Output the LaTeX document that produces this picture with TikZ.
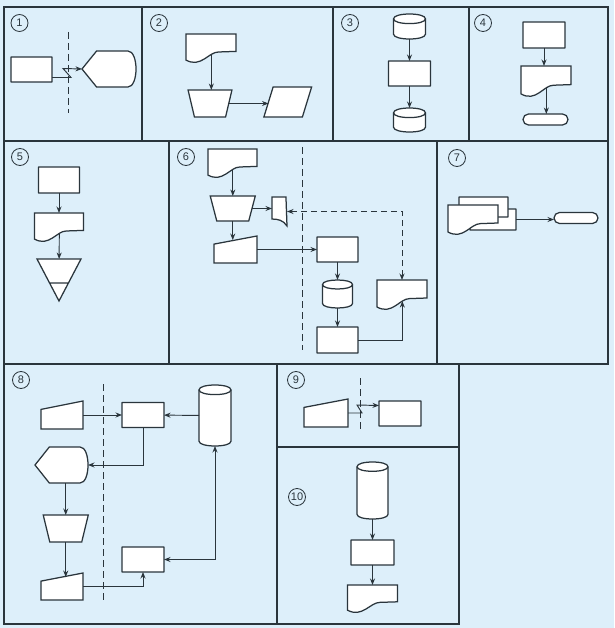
\documentclass[tikz,border=0pt]{standalone}
\usepackage{fontspec}
\setsansfont{Liberation Sans}
\usetikzlibrary{calc,arrows.meta}
\definecolor{paper}{HTML}{DDEFFA}
\definecolor{ink}{HTML}{2A353C}

% outlines drawn round ghost nodes
\newcommand\docshape[1]{%
  \draw[fig] let \p1=(#1.north west), \p2=(#1.south east),
    \n1={\x2-\x1}, \n2={\y1-\y2} in
    (\x1,\y1) -- (\x2,\y1) -- (\x2,{\y1-0.6*\n2})
    -- ({\x1+0.65*\n1},{\y1-0.62*\n2})
    .. controls ({\x1+0.45*\n1},{\y1-0.62*\n2}) and ({\x1+0.3*\n1},{\y1-1.18*\n2})
    .. coordinate[pos=0.25] (#1-b) (\x1,{\y1-0.9*\n2}) -- cycle;}
\newcommand\dispshape[1]{%
  \draw[fig] let \p1=(#1.north west), \p2=(#1.south east),
    \n1={\x2-\x1}, \n2={\y1-\y2} in
    (\x1,{\y1-0.5*\n2}) -- ({\x1+0.27*\n1},\y1) -- ({\x1+0.85*\n1},\y1)
    .. controls ({\x1+1.05*\n1},\y1) and ({\x1+1.05*\n1},\y2) .. ({\x1+0.85*\n1},\y2)
    -- ({\x1+0.27*\n1},\y2) -- cycle;}
\newcommand\manshape[1]{%
  \draw[fig] let \p1=(#1.north west), \p2=(#1.south east), \n2={\y1-\y2} in
    (\x1,{\y1-0.3*\n2}) -- coordinate[pos=0.5] (#1-t) (\x2,\y1)
    -- (\x2,\y2) -- (\x1,\y2) -- cycle;}
\newcommand\trapshape[1]{%
  \draw[fig] let \p1=(#1.north west), \p2=(#1.south east), \n1={0.085*(\x2-\x1)} in
    ({\x1-\n1},\y1) -- ({\x2+\n1},\y1) -- ({\x2-\n1},\y2) -- ({\x1+\n1},\y2) -- cycle;}
\newcommand\parashape[1]{%
  \draw[fig] let \p1=(#1.north west), \p2=(#1.south east), \n1={0.12*(\x2-\x1)} in
    ({\x1+\n1},\y1) -- ({\x2+\n1},\y1) -- ({\x2-\n1},\y2) -- ({\x1-\n1},\y2) -- cycle;}
\newcommand\mergeshape[1]{%
  \draw[fig] let \p1=(#1.north west), \p2=(#1.south east),
    \n1={\x2-\x1}, \n2={\y1-\y2} in
    (\x1,\y1) -- (\x2,\y1) -- ({\x1+0.5*\n1},\y2) -- cycle
    ({\x1+0.285*\n1},{\y1-0.57*\n2}) -- ({\x1+0.715*\n1},{\y1-0.57*\n2});}
\newcommand\cylshape[1]{%
  \draw[fig] let \p1=(#1.north west), \p2=(#1.south east), \n3={0.15*(\x2-\x1)} in
    (\x1,{\y1-\n3}) -- (\x1,{\y2+\n3})
    .. controls (\x1,{\y2-0.333*\n3}) and (\x2,{\y2-0.333*\n3}) .. (\x2,{\y2+\n3})
    -- (\x2,{\y1-\n3})
    .. controls (\x2,{\y1+0.333*\n3}) and (\x1,{\y1+0.333*\n3}) .. (\x1,{\y1-\n3}) -- cycle;
  \draw[fig, fill=none] let \p1=(#1.north west), \p2=(#1.south east), \n3={0.15*(\x2-\x1)} in
    (\x1,{\y1-\n3}) .. controls (\x1,{\y1-2.333*\n3}) and (\x2,{\y1-2.333*\n3}) .. (\x2,{\y1-\n3});}
\newcommand\cardshape[1]{%
  \draw[fig] let \p1=(#1.north west), \p2=(#1.south east),
    \n1={\x2-\x1}, \n2={\y1-\y2} in
    (\x1,\y1) -- ({\x2-0.07*\n1},\y1) -- (\x2,\y2)
    .. controls ({\x2-0.25*\n1},{\y2+0.2*\n2}) and ({\x1+0.4*\n1},{\y2+0.24*\n2}) .. (\x1,{\y2+0.24*\n2})
    -- cycle;}

\begin{document}
\begin{tikzpicture}[x=1pt, y=-1pt,
  fig/.style={draw=ink, fill=white, line width=1.25pt},
  box/.style={fig, rectangle, rounded corners=0.3pt, inner sep=0, outer sep=0,
              minimum width=42, minimum height=25},
  ghost/.style 2 args={inner sep=0, outer sep=0, minimum width=#1, minimum height=#2},
  term/.style={box, rounded corners=5.5, minimum width=45, minimum height=11},
  num/.style={draw=ink, circle, line width=0.8pt, inner sep=0, minimum size=17,
              font=\sffamily\fontsize{11}{11}\selectfont, text=ink},
  frame/.style={draw=ink, line width=1.1pt},
  split/.style={draw=ink, line width=1pt, dash pattern=on 7pt off 4pt},
  arr/.style={-{Stealth[length=6.5pt,width=5pt]}, draw=ink, line width=0.95pt},
  darr/.style={arr, {Stealth[length=6.5pt,width=5pt]}-{Stealth[length=6.5pt,width=5pt]},
               dash pattern=on 6pt off 4pt}
]
  \useasboundingbox (0,0) rectangle (614,628);
  \fill[paper] (0,0) rectangle (614,628);

  \draw[frame] (4,7) -- (608,7) -- (608,364) -- (4,364) -- cycle;
  \draw[frame] (4,141) -- (608,141) (142,7) -- (142,141) (333,7) -- (333,141)
               (469,7) -- (469,141) (169,141) -- (169,364) (437,141) -- (437,364);
  \draw[frame] (4,364) -- (4,624) -- (277,624) -- (277,364)
               (277,447) -- (459,447) (459,364) -- (459,624) -- (277,624);

  \node[num] (n1) at (19.5,23) {1};
  \node[num] (n2) at (159,23) {2};
  \node[num] (n3) at (350,23) {3};
  \node[num] (n4) at (483,23) {4};
  \node[num] (n5) at (20,157) {5};
  \node[num] (n6) at (186,157) {6};
  \node[num] (n7) at (457,158) {7};
  \node[num] (n8) at (21,380) {8};
  \node[num] (n9) at (296,380) {9};
  \node[num] (n10) at (297,497) {10};

  \node[box, minimum width=41] (rect1) at (31.5,69.5) {};
  \node[ghost={54}{36}] (disp1) at (109,69) {};
  \dispshape{disp1}
  \draw[split] (68,32) -- (68,113);

  \node[ghost={50}{29}] (doc2) at (211,48.5) {};
  \node[ghost={37.5}{27}] (trap2) at (210,103.5) {};
  \node[ghost={38.5}{30}] (para2) at (287.75,102) {};
  \docshape{doc2} \trapshape{trap2} \parashape{para2}

  \node[ghost={32}{25}] (cyl3a) at (409.5,26.5) {};
  \node[box] (rect3) at (409.5,73.5) {};
  \node[ghost={32}{24}] (cyl3b) at (409.5,120) {};
  \cylshape{cyl3a} \cylshape{cyl3b}

  \node[box, minimum height=26] (rect4) at (544,35) {};
  \node[ghost={50}{31}] (doc4) at (546,81.5) {};
  \node[term] (term4) at (545.5,119.5) {};
  \docshape{doc4}

  \node[box, minimum width=41, minimum height=26] (rect5) at (59,180) {};
  \node[ghost={49}{29}] (doc5) at (59,227.5) {};
  \node[ghost={44}{42}] (tri5) at (59,280) {};
  \docshape{doc5} \mergeshape{tri5}

  \node[ghost={49}{29}] (doc6a) at (232.5,163.5) {};
  \node[ghost={38.5}{25}] (trap6) at (232.75,208.5) {};
  \node[ghost={15}{29}] (card6) at (279.5,211.5) {};
  \node[ghost={43}{27}] (mi6) at (235.5,249.5) {};
  \node[box, minimum width=41] (rect6a) at (337.5,249.5) {};
  \node[ghost={30}{28}] (cyl6) at (337.5,294) {};
  \node[box, minimum width=41, minimum height=26] (rect6b) at (337.5,340) {};
  \node[ghost={50}{30}] (doc6b) at (402,295) {};
  \docshape{doc6a} \trapshape{trap6} \cardshape{card6} \manshape{mi6}
  \cylshape{cyl6} \docshape{doc6b}
  \draw[split] (302,147) -- (302,350);

  \node[box, minimum width=46, minimum height=21] (mid7) at (493,219.5) {};
  \node[box, minimum width=49, minimum height=20] (back7) at (483.5,207) {};
  \node[ghost={50}{30}] (doc7) at (473,220) {};
  \node[term, minimum width=44] (term7) at (576,218) {};
  \docshape{doc7}

  \node[ghost={42}{28}] (mi8a) at (62,415) {};
  \node[box] (rect8a) at (143,415) {};
  \node[ghost={32}{61}] (cyl8) at (215,415.5) {};
  \node[ghost={53}{36}] (disp8) at (61.5,465) {};
  \node[ghost={38.5}{27}] (trap8) at (65.75,528.5) {};
  \node[ghost={42}{27}] (mi8b) at (62,586.5) {};
  \node[box] (rect8b) at (143,559.5) {};
  \manshape{mi8a} \cylshape{cyl8} \dispshape{disp8} \trapshape{trap8} \manshape{mi8b}
  \draw[split] (103,384) -- (103,603);

  \node[ghost={44}{28}] (mi9) at (326,413) {};
  \node[box] (rect9) at (400,413.5) {};
  \manshape{mi9}
  \draw[split] (360,378) -- (360,432);

  \node[ghost={31}{57}] (cyl10) at (372.5,490.5) {};
  \node[box, minimum width=43] (rect10) at (372.5,552.5) {};
  \node[ghost={50}{28}] (doc10) at (372.5,599) {};
  \cylshape{cyl10} \docshape{doc10}

  \draw[arr] ([yshift=-8]rect1.east) -- ++(19,0) -- ++(-8,-9) -- (disp1.west);
  \draw[arr] (doc2-b) -- (doc2-b |- trap2.north);
  \draw[arr] (trap2) -- (trap2 -| para2.west);
  \draw[arr] (cyl3a) -- (rect3);
  \draw[arr] (rect3) -- (cyl3b);
  \draw[arr] (rect4) -- (rect4 |- doc4.north);
  \draw[arr] (doc4-b) -- (doc4-b |- term4.north);
  \draw[arr] (rect5) -- (doc5);
  \draw[arr] (doc5-b) -- (tri5);
  \draw[arr] (doc6a-b) -- (doc6a-b |- trap6.north);
  \draw[arr] (trap6) -- (trap6 -| card6.west);
  \draw[arr] (trap6) -- (trap6 |- mi6-t);
  \draw[arr] (mi6) -- (rect6a);
  \draw[arr] (rect6a) -- (cyl6);
  \draw[arr] (cyl6) -- (rect6b);
  \draw[arr] (rect6b) -| (doc6b-b);
  \draw[darr] (doc6b) |- (card6);
  \draw[arr] (mid7) -- (mid7 -| term7.west);
  \draw[arr] (mi8a) -- (rect8a);
  \draw[arr] (cyl8) -- (rect8a);
  \draw[arr] (rect8a) |- (disp8);
  \draw[arr] (trap8 |- disp8.south) -- (trap8);
  \draw[arr] (trap8) -- (trap8 |- mi8b-t);
  \draw[arr] (mi8b) -| (rect8b);
  \draw[darr, dash pattern=] (rect8b) -| (cyl8);
  \draw[arr] (mi9.east) -- ++(14,0) -- ++(-5,-8) -- ([yshift=8]rect9.west);
  \draw[arr] (cyl10) -- (rect10);
  \draw[arr] (rect10) -- (doc10);
\end{tikzpicture}
\end{document}
